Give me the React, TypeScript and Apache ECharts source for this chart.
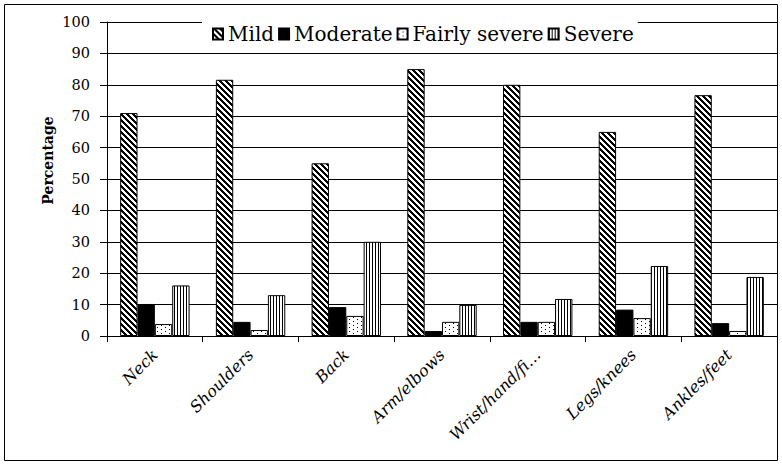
import React, { useEffect, useRef } from "react";
import * as echarts from "echarts";

// Body regions reported and the share of each complaint level (%)
const categories = [
  "Neck",
  "Shoulders",
  "Back",
  "Arm/elbows",
  "Wrist/hand/fingers",
  "Legs/knees",
  "Ankles/feet",
];
const mild = [71, 81.6, 55, 85, 80, 65, 76.7];
const moderate = [10.2, 4.5, 9.2, 1.6, 4.5, 8.4, 4.1];
const fairlySevere = [3.8, 1.9, 6.4, 4.5, 4.5, 5.7, 1.6];
const severe = [16.1, 13.0, 30.0, 9.9, 11.8, 22.3, 18.8];
const seriesNames = ["Mild", "Moderate", "Fairly severe", "Severe"];

const FONT = '"DejaVu Serif", "Liberation Serif", serif';

// Build a repeating black-and-white tile pattern, pixel by pixel
function tile(w: number, h: number, black: (x: number, y: number) => boolean) {
  const c = document.createElement("canvas");
  c.width = w;
  c.height = h;
  const ctx = c.getContext("2d")!;
  ctx.fillStyle = "#fff";
  ctx.fillRect(0, 0, w, h);
  ctx.fillStyle = "#000";
  for (let y = 0; y < h; y++) {
    for (let x = 0; x < w; x++) {
      if (black(x, y)) ctx.fillRect(x, y, 1, 1);
    }
  }
  return { image: c, repeat: "repeat", imageWidth: w, imageHeight: h } as any;
}

export default function App() {
  const ref = useRef<HTMLDivElement>(null);

  useEffect(() => {
    if (!ref.current) return;
    const chart = echarts.init(ref.current, undefined, { renderer: "svg" });

    const diagonal = tile(6, 6, (x, y) => (((x - y) % 6) + 6) % 6 < 3);
    const dots = tile(8, 4, (x, y) => (x === 1 && y === 1) || (x === 5 && y === 3));
    const vertical = tile(3, 3, (x) => x === 0);
    const fills = [diagonal, "#000", dots, vertical];
    const values = [mild, moderate, fairlySevere, severe];

    chart.setOption({
      animation: false,
      backgroundColor: "#fff",
      textStyle: { fontFamily: FONT, color: "#000" },
      grid: { left: 107, right: 5, top: 22, bottom: 130, containLabel: false },
      legend: {
        data: seriesNames,
        left: 202,
        top: 20,
        padding: [4, 4, 4, 10],
        itemGap: 4,
        itemWidth: 10,
        itemHeight: 11,
        icon: "rect",
        backgroundColor: "#fff",
        textStyle: { fontFamily: FONT, fontSize: 20, color: "#000" },
      },
      xAxis: {
        type: "category",
        data: categories,
        axisLine: { lineStyle: { color: "#000", width: 1 } },
        axisTick: { show: true, length: 6, lineStyle: { color: "#000", width: 1 } },
        axisLabel: {
          interval: 0,
          rotate: 45,
          margin: 16,
          fontFamily: FONT,
          fontStyle: "italic",
          fontSize: 16,
          color: "#000",
          formatter: (v: string) => (v.length > 14 ? v.slice(0, 13) + "\u2026" : v),
        },
        splitLine: { show: false },
      },
      yAxis: {
        type: "value",
        min: 0,
        max: 100,
        interval: 10,
        axisLine: { show: true, lineStyle: { color: "#000", width: 1 } },
        axisTick: { show: true, length: 7, lineStyle: { color: "#000", width: 1 } },
        axisLabel: { margin: 17, fontFamily: FONT, fontSize: 14.5, color: "#000" },
        splitLine: { show: true, lineStyle: { color: "#000", width: 1 } },
      },
      series: seriesNames.map((name, i) => ({
        name,
        type: "bar",
        data: values[i],
        barGap: "0%",
        barCategoryGap: "27.5%",
        itemStyle: { color: fills[i], borderColor: "#000", borderWidth: 1 },
        emphasis: { disabled: true },
      })),
      graphic: [
        {
          type: "rect",
          shape: { x: 4.5, y: 4.5, width: 773, height: 456 },
          style: { fill: "none", stroke: "#000", lineWidth: 1 },
          z: 100,
        },
        {
          type: "text",
          x: 47.5,
          y: 160.5,
          rotation: Math.PI / 2,
          style: {
            text: "Percentage",
            font: `bold 14px ${FONT}`,
            fill: "#000",
            align: "center",
            verticalAlign: "middle",
          },
        },
      ],
    });

    return () => chart.dispose();
  }, []);

  return (
    <div
      ref={ref}
      style={{ position: "fixed", left: 0, top: 0, width: 782, height: 466 }}
    />
  );
}
